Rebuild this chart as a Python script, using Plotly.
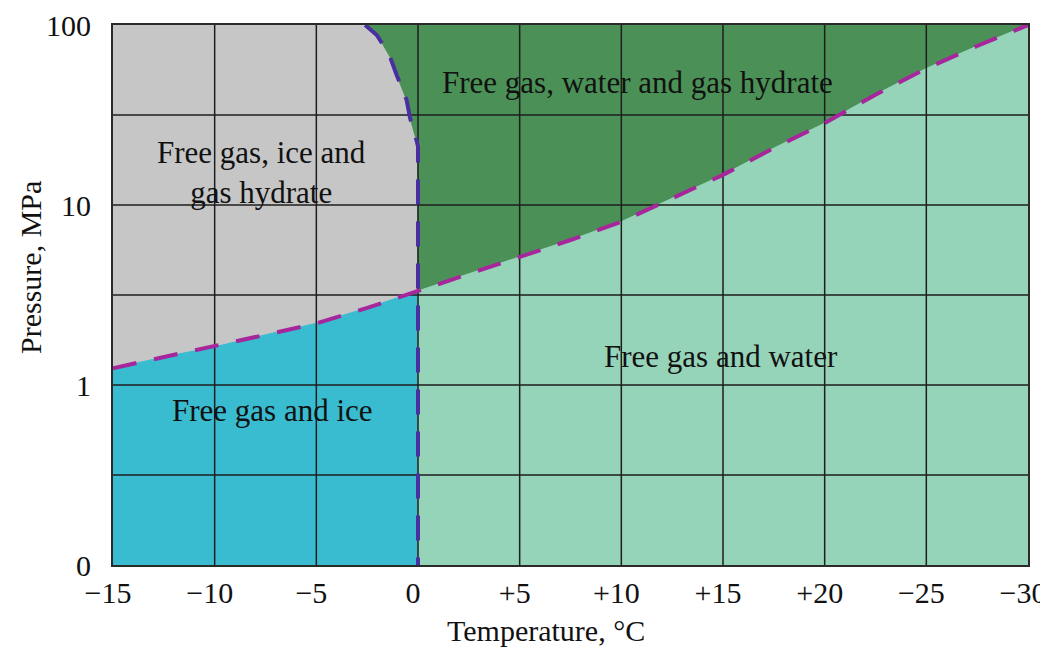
import plotly.graph_objects as go

# ---- axis ticks ----
x_tick_vals = [-15, -10, -5, 0, 5, 10, 15, 20, 25, 30]
x_tick_text = ["−15", "−10", "−5", "0", "+5", "+10", "+15", "+20", "−25", "−30"]
y_tick_vals = [0.1, 0.316, 1, 3.16, 10, 31.6, 100]
y_tick_text = ["0", "", "1", "", "10", "", "100"]

T_MIN, T_MAX = -15, 30
P_MIN, P_MAX = 0.1, 100

# ---- gas-hydrate equilibrium curve (magenta), T in °C, P in MPa ----
hyd_T = [-15, -12.5, -10, -7.5, -5, -2.5, 0, 2.5, 5, 7.5, 10, 12.5, 15, 17.5, 20, 22.5, 25, 27.5, 30]
hyd_P = [1.24, 1.43, 1.63, 1.90, 2.20, 2.68, 3.33, 4.15, 5.16, 6.39, 8.08, 10.9, 14.7, 20.7, 28.5, 41.0, 57.4, 76.4, 100]

# ---- ice / water boundary (blue) ----
ice_T = [-2.60, -2.30, -2.03, -1.70, -1.38, -1.05, -0.80, -0.56, -0.39, -0.22, -0.08, 0, 0]
ice_P = [100, 94, 88, 77, 66.7, 52.8, 45, 38.3, 30.4, 26.5, 23, 21.1, 0.1]

# ---- colours ----
C_GREY = "#c6c6c6"
C_DKGREEN = "#4b9157"
C_CYAN = "#39bcd0"
C_LTGREEN = "#95d4b9"
C_MAGENTA = "#a8269c"
C_BLUE = "#4a2fa0"
C_GRID = "#1e1e1e"
C_TEXT = "#111111"
FONT = "Liberation Serif"

neg_T = [t for t in hyd_T if t <= 0]
neg_P = [p for t, p in zip(hyd_T, hyd_P) if t <= 0]
pos_T = [t for t in hyd_T if t >= 0]
pos_P = [p for t, p in zip(hyd_T, hyd_P) if t >= 0]
ice_up_T = ice_T[:-1]
ice_up_P = ice_P[:-1]

fig = go.Figure()

def region(xs, ys, color):
    fig.add_trace(go.Scatter(x=xs, y=ys, fill="toself", fillcolor=color,
                             mode="lines", line=dict(color=color, width=1),
                             hoverinfo="skip", showlegend=False))

# grey: free gas, ice and gas hydrate
region([T_MIN] + neg_T + ice_up_T[::-1] + [T_MIN],
       [P_MAX] + neg_P + ice_up_P[::-1] + [P_MAX], C_GREY)
# dark green: free gas, water and gas hydrate
region(pos_T + [T_MAX] + ice_up_T + [pos_T[0]],
       pos_P + [P_MAX] + ice_up_P + [pos_P[0]], C_DKGREEN)
# cyan: free gas and ice
region([T_MIN] + neg_T + [0, T_MIN],
       [P_MIN] + neg_P + [P_MIN, P_MIN], C_CYAN)
# light green: free gas and water
region([0] + pos_T + [T_MAX, 0],
       [P_MIN] + pos_P + [P_MIN, P_MIN], C_LTGREEN)

# grid lines drawn above fills
gx, gy = [], []
for t in x_tick_vals[1:-1]:
    gx += [t, t, None]
    gy += [P_MIN, P_MAX, None]
for p in y_tick_vals[1:-1]:
    gx += [T_MIN, T_MAX, None]
    gy += [p, p, None]
fig.add_trace(go.Scatter(x=gx, y=gy, mode="lines", line=dict(color=C_GRID, width=1.5),
                         hoverinfo="skip", showlegend=False))

# boundary curves
fig.add_trace(go.Scatter(x=ice_T, y=ice_P, mode="lines",
                         line=dict(color=C_BLUE, width=4, dash="25px,17px"),
                         hoverinfo="skip", showlegend=False))
fig.add_trace(go.Scatter(x=hyd_T, y=hyd_P, mode="lines",
                         line=dict(color=C_MAGENTA, width=4, dash="24px,18px"),
                         hoverinfo="skip", showlegend=False))

ann_font = dict(family=FONT, size=31, color=C_TEXT)
labels = [
    ("Free gas, water and gas hydrate", 0.5727, 0.8926),
    ("Free gas, ice and<br>gas hydrate", 0.1628, 0.727),
    ("Free gas and water", 0.6645, 0.387),
    ("Free gas and ice", 0.1743, 0.287),
]
for txt, ax, ay in labels:
    fig.add_annotation(text=txt, x=ax, y=ay, xref="paper", yref="paper",
                       showarrow=False, font=ann_font, xanchor="center", yanchor="middle")

# axis titles (placed as in the reference, slightly off-centre)
title_font = dict(family=FONT, size=30, color=C_TEXT)
fig.add_annotation(text="Temperature, °C", x=0.4732, y=-0.1204, xref="paper", yref="paper",
                   showarrow=False, font=title_font, xanchor="center", yanchor="middle")
fig.add_annotation(text="Pressure, MPa", x=-0.0907, y=0.55, xref="paper", yref="paper",
                   showarrow=False, font=title_font, textangle=-90,
                   xanchor="center", yanchor="middle")

fig.update_xaxes(
    range=[T_MIN, T_MAX], tickmode="array", tickvals=x_tick_vals, ticktext=x_tick_text,
    showgrid=False, zeroline=False, showline=True, linecolor="#2a2a2a", linewidth=2,
    mirror=True, ticks="", ticklabelstandoff=0, ticklabelshift=-5,
    ticklabeloverflow="allow", automargin=False,
    tickfont=dict(family=FONT, size=30, color=C_TEXT),
    layer="above traces",
)
fig.update_yaxes(
    type="log", range=[-1, 2], tickmode="array", tickvals=y_tick_vals, ticktext=y_tick_text,
    showgrid=False, zeroline=False, showline=True, linecolor="#2a2a2a", linewidth=2,
    mirror=True, ticks="", ticklabelstandoff=14, ticklabeloverflow="allow", automargin=False,
    tickfont=dict(family=FONT, size=30, color=C_TEXT),
    layer="above traces",
)
fig.update_layout(
    width=1040, height=642,
    margin=dict(l=105, r=20, t=17, b=85),
    plot_bgcolor="white", paper_bgcolor="white",
    showlegend=False,
)
fig.write_html("out.html")
